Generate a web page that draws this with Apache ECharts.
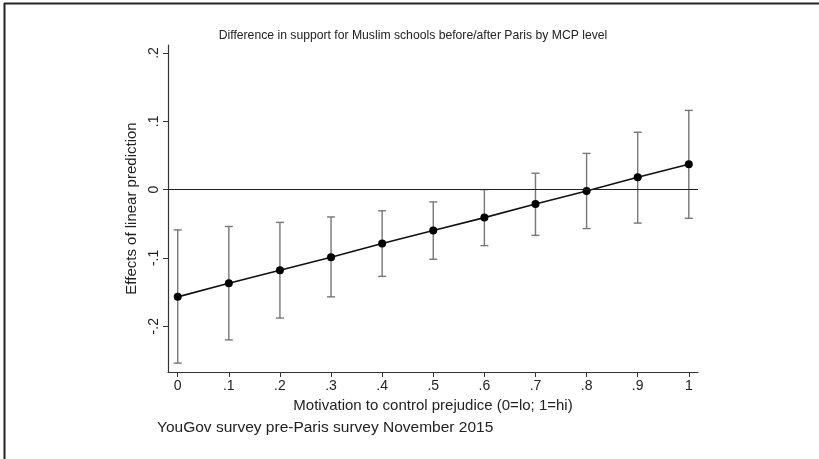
<!DOCTYPE html>
<html>
<head>
<meta charset="utf-8">
<script src="https://cdn.jsdelivr.net/npm/echarts@6/dist/echarts.min.js"></script>
<style>
  html, body { margin: 0; padding: 0; background: #fff; }
  #chart { width: 819px; height: 459px; }
</style>
</head>
<body>
<div id="chart"></div>
<script>
// MCP level (x) and predicted effect with 95% CI
const mcpLevels = [0, 0.1, 0.2, 0.3, 0.4, 0.5, 0.6, 0.7, 0.8, 0.9, 1];
const effects = [-0.157, -0.137, -0.118, -0.099, -0.079, -0.060, -0.041, -0.021, -0.002, 0.018, 0.037];
const ciLower = [-0.254, -0.220, -0.188, -0.157, -0.127, -0.102, -0.082, -0.067, -0.057, -0.049, -0.042];
const ciUpper = [-0.059, -0.054, -0.048, -0.040, -0.031, -0.018, 0.000, 0.024, 0.053, 0.084, 0.116];
const xTicks = [0, 0.1, 0.2, 0.3, 0.4, 0.5, 0.6, 0.7, 0.8, 0.9, 1];
const yTicks = [-0.2, -0.1, 0, 0.1, 0.2];

const font = "Liberation Sans, Arial, sans-serif";

// stata style: 0 / .1 / -.1 / 1
const fmt = (v) => {
  const r = Math.round(v * 10) / 10;
  if (r === 0) return "0";
  if (Math.abs(r) === 1) return r < 0 ? "-1" : "1";
  return (r < 0 ? "-" : "") + "." + Math.round(Math.abs(r) * 10);
};

const chart = echarts.init(document.getElementById("chart"));

const lineData = mcpLevels.map((x, i) => [x, effects[i]]);
const barData = mcpLevels.map((x, i) => [x, ciLower[i], ciUpper[i]]);

const option = {
  animation: false,
  backgroundColor: "#fff",
  title: {
    text: "Difference in support for Muslim schools before/after Paris by MCP level",
    left: 408,
    top: 25,
    textAlign: "center",
    textStyle: { fontFamily: font, fontSize: 12.2, fontWeight: "normal", color: "#222" },
  },
  grid: { left: 168, top: 45, right: 121, bottom: 87 },
  xAxis: {
    type: "value",
    min: -0.019,
    max: 1.018,
    name: "Motivation to control prejudice (0=lo; 1=hi)",
    nameLocation: "middle",
    nameGap: 26,
    nameTextStyle: { fontFamily: font, fontSize: 15, color: "#222" },
    splitLine: { show: false },
    axisLine: { onZero: false, lineStyle: { color: "#333", width: 1.2 } },
    axisTick: { customValues: xTicks, length: 5, lineStyle: { color: "#333" } },
    axisLabel: {
      customValues: xTicks,
      formatter: fmt,
      fontFamily: font,
      fontSize: 14,
      color: "#222",
      margin: 7,
    },
  },
  yAxis: {
    type: "value",
    min: -0.267,
    max: 0.2117,
    name: "Effects of linear prediction",
    nameLocation: "middle",
    nameGap: 28,
    nameTextStyle: { fontFamily: font, fontSize: 15, color: "#222" },
    splitLine: { show: false },
    axisLine: { show: true, onZero: false, lineStyle: { color: "#333", width: 1.2 } },
    axisTick: { show: true, customValues: yTicks, length: 5, lineStyle: { color: "#333" } },
    axisLabel: {
      customValues: yTicks,
      formatter: fmt,
      rotate: 90,
      fontFamily: font,
      fontSize: 14,
      color: "#222",
      margin: 7,
    },
  },
  graphic: [
    { type: "line", shape: { x1: 4, y1: 3.5, x2: 819, y2: 3.5 }, style: { stroke: "#222", lineWidth: 2 } },
    { type: "line", shape: { x1: 4.5, y1: 3, x2: 4.5, y2: 459 }, style: { stroke: "#222", lineWidth: 2 } },
    {
      type: "text",
      left: 157,
      top: 420,
      style: { text: "YouGov survey pre-Paris survey November 2015", fontFamily: font, fontSize: 15.5, fill: "#222" },
    },
  ],
  series: [
    {
      type: "custom",
      z: 2,
      data: barData,
      renderItem: (params, api) => {
        const lo = api.coord([api.value(0), api.value(1)]);
        const hi = api.coord([api.value(0), api.value(2)]);
        const w = 4;
        const style = { stroke: "#777", lineWidth: 1.4 };
        return {
          type: "group",
          children: [
            { type: "line", shape: { x1: lo[0], y1: lo[1], x2: hi[0], y2: hi[1] }, style },
            { type: "line", shape: { x1: lo[0] - w, y1: lo[1], x2: lo[0] + w, y2: lo[1] }, style },
            { type: "line", shape: { x1: hi[0] - w, y1: hi[1], x2: hi[0] + w, y2: hi[1] }, style },
          ],
        };
      },
    },
    {
      type: "line",
      z: 3,
      data: lineData,
      symbol: "circle",
      symbolSize: 8,
      itemStyle: { color: "#000" },
      lineStyle: { color: "#111", width: 1.6 },
      markLine: {
        silent: true,
        symbol: "none",
        label: { show: false },
        lineStyle: { color: "#222", width: 1.2, type: "solid" },
        data: [{ yAxis: 0 }],
      },
    },
  ],
};

chart.setOption(option);
</script>
</body>
</html>
